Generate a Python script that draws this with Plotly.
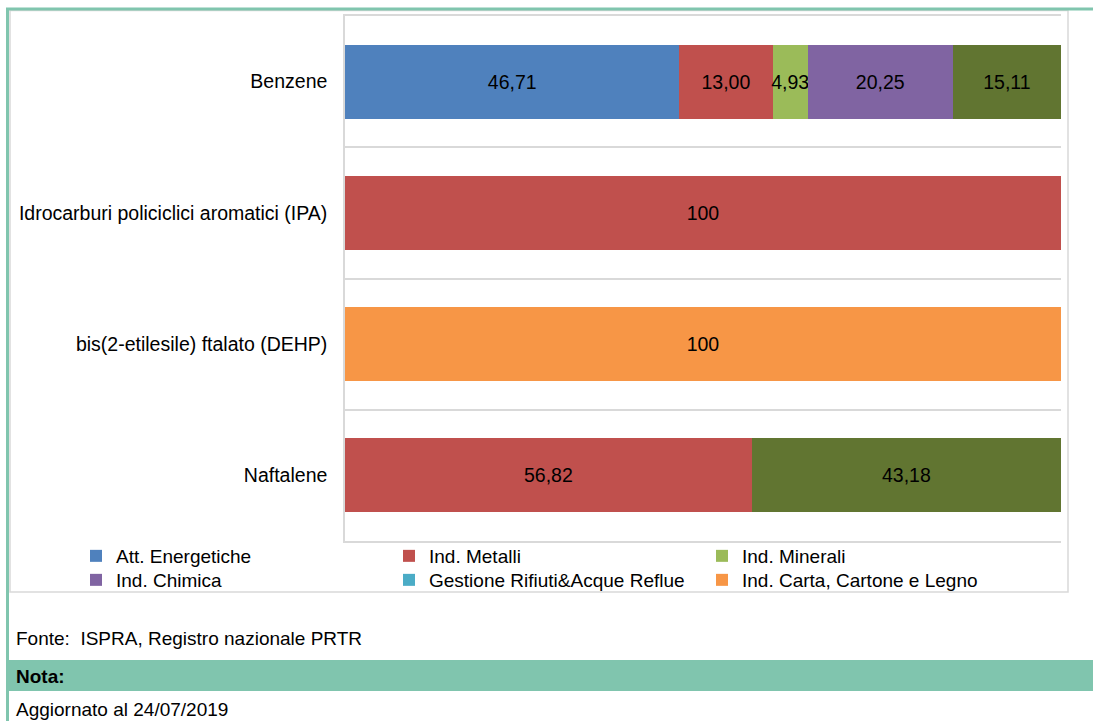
import plotly.graph_objects as go

# ---------------- data ----------------
categories = [
    "Benzene",
    "Idrocarburi policiclici aromatici (IPA)",
    "bis(2-etilesile) ftalato (DEHP)",
    "Naftalene",
]
att_energetiche = [46.71, 0, 0, 0]
ind_metalli = [13.00, 100, 0, 56.82]
ind_minerali = [4.93, 0, 0, 0]
ind_chimica = [20.25, 0, 0, 0]
gestione_rifiuti = [0, 0, 0, 0]
ind_carta = [0, 0, 100, 0]
altro = [15.11, 0, 0, 43.18]

# (name, values, colour, legend id or None)
series = [
    ("Att. Energetiche", att_energetiche, "#4f81bd", "legend"),
    ("Ind. Metalli", ind_metalli, "#c0504d", "legend"),
    ("Ind. Minerali", ind_minerali, "#9bbb59", "legend"),
    ("Ind. Chimica", ind_chimica, "#8064a2", "legend2"),
    ("Gestione Rifiuti&Acque Reflue", gestione_rifiuti, "#4bacc6", "legend2"),
    ("Ind. Carta, Cartone e Legno", ind_carta, "#f79646", "legend2"),
    ("Altro", altro, "#617531", None),
]

source_text = "Fonte:  ISPRA, Registro nazionale PRTR"
note_title = "Nota:"
note_text = "Aggiornato al 24/07/2019"

# ---------------- layout geometry ----------------
FW, FH = 1093, 721
L, R, T, B = 345, 1061, 16, 541
W, H = R - L, B - T


def px(x):
    return (x - L) / W


def py(y):
    return (B - y) / H


def label(v):
    if v == 0:
        return ""
    if v == 100:
        return "100"
    return f"{v:.2f}".replace(".", ",")


FONT = "Liberation Sans, Arial, sans-serif"

fig = go.Figure()
for name, vals, color, leg in series:
    fig.add_trace(go.Bar(
        y=categories,
        x=vals,
        name=name,
        orientation="h",
        marker=dict(color=color, line=dict(width=0)),
        text=[label(v) for v in vals],
        textposition="inside",
        insidetextanchor="middle",
        textangle=0,
        insidetextfont=dict(color="#000000", size=19.5, family=FONT),
        showlegend=leg is not None,
        legend=leg if leg else "legend",
        width=0.565,
        hoverinfo="skip",
    ))

shapes = [
    # inner chart box
    dict(type="rect", xref="paper", yref="paper",
         x0=px(10), x1=px(1068), y0=py(592), y1=py(10.5),
         line=dict(color="#d9d9d9", width=1.5), layer="below"),
    # nota band
    dict(type="rect", xref="paper", yref="paper",
         x0=px(8), x1=px(FW + 5), y0=py(691), y1=py(660),
         line=dict(width=0), fillcolor="#80c5ae", layer="below"),
    # outer green frame: top and left
    dict(type="line", xref="paper", yref="paper",
         x0=px(6), x1=px(FW + 5), y0=py(9), y1=py(9),
         line=dict(color="#80c5ae", width=3)),
    dict(type="line", xref="paper", yref="paper",
         x0=px(7.5), x1=px(7.5), y0=py(8), y1=py(FH + 5),
         line=dict(color="#80c5ae", width=3)),
]

annotations = [
    dict(text=source_text, xref="paper", yref="paper", x=px(14), y=py(638),
         xanchor="left", yanchor="middle", showarrow=False,
         font=dict(family=FONT, size=19, color="#000000")),
    dict(text="<b>" + note_title + "</b>", xref="paper", yref="paper", x=px(14), y=py(676),
         xanchor="left", yanchor="middle", showarrow=False,
         font=dict(family=FONT, size=19, color="#000000")),
    dict(text=note_text, xref="paper", yref="paper", x=px(14), y=py(709),
         xanchor="left", yanchor="middle", showarrow=False,
         font=dict(family=FONT, size=19, color="#000000")),
]

legend_common = dict(
    orientation="h",
    x=px(76), xanchor="left",
    yanchor="middle",
    entrywidth=268, entrywidthmode="pixels",
    font=dict(family=FONT, size=19, color="#000000"),
    bgcolor="rgba(0,0,0,0)",
    traceorder="normal",
    itemclick=False, itemdoubleclick=False,
)

fig.update_layout(
    width=FW, height=FH,
    margin=dict(l=L, r=FW - R, t=T, b=FH - B, pad=0),
    paper_bgcolor="#ffffff",
    plot_bgcolor="#ffffff",
    barmode="stack",
    font=dict(family=FONT, size=19.5, color="#000000"),
    uniformtext=dict(mode="show", minsize=19.5),
    showlegend=True,
    legend=dict(y=py(556), **legend_common),
    legend2=dict(y=py(580), **legend_common),
    xaxis=dict(range=[0, 100], showgrid=False, zeroline=False,
               showticklabels=False, showline=True, mirror=True,
               linecolor="#d9d9d9", linewidth=1.5, fixedrange=True),
    yaxis=dict(
        categoryorder="array", categoryarray=categories,
        autorange="reversed",
        tickson="boundaries",
        showgrid=True, gridcolor="#d9d9d9", gridwidth=1.5,
        showline=True, linecolor="#d9d9d9", linewidth=1.5,
        ticks="", ticklabelstandoff=12,
        tickfont=dict(family=FONT, size=19.5, color="#000000"),
        fixedrange=True,
    ),
    shapes=shapes,
    annotations=annotations,
)

fig.write_html("out.html", config={"displayModeBar": False},
               post_script="document.body.style.margin='0';")
